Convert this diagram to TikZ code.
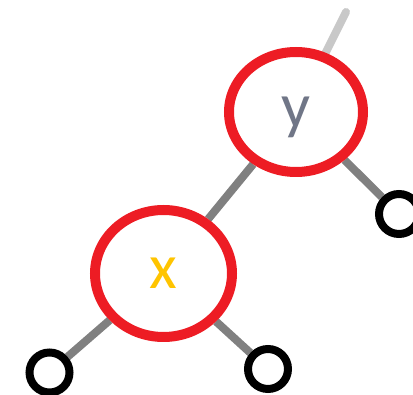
\documentclass[tikz,border=0pt]{standalone}
\usepackage{fontspec}
\setmainfont{Carlito}
\usetikzlibrary{shapes.geometric,backgrounds}

\definecolor{ringred}{RGB}{237,28,36}
\definecolor{keygray}{RGB}{112,118,135}
\definecolor{keyyellow}{RGB}{255,196,0}
\definecolor{edgegray}{RGB}{128,128,128}
\definecolor{parentgray}{RGB}{200,200,200}

\tikzset{
    keynode/.style={ellipse, draw=ringred, line width=10pt, text depth=0pt, font=\fontsize{64}{64}\selectfont},
    leafnode/.style={circle, draw=black, line width=8pt, minimum size=40pt, inner sep=0pt},
    edge/.style={draw=edgegray, line width=8pt}
}

\begin{document}
\begin{tikzpicture}[x=1pt, y=-1pt]
    \useasboundingbox (0,0) rectangle (413,395);

    % Keys
    \node[keynode, minimum width=134pt, minimum height=120pt, text=keygray] (y) at (296,112) {y};
    \node[keynode, minimum width=137pt, minimum height=127pt, text=keyyellow] (x) at (163.5,273.5) {x};

    % Leaves
    \node[leafnode] (yright) at (399,214) {};
    \node[leafnode] (xleft) at (49.5,372.5) {};
    \node[leafnode] (xright) at (268,369) {};

    % Link to the parent
    \coordinate (parent) at (346,12);

    % Edges
    \begin{scope}[on background layer]
        \draw[draw=parentgray, line width=8pt, line cap=round] (y) -- (parent);
        \draw[edge] (y) -- (x);
        \draw[edge] (y) -- (yright);
        \draw[edge] (x) -- (xleft);
        \draw[edge] (x) -- (xright);
    \end{scope}
\end{tikzpicture}
\end{document}
